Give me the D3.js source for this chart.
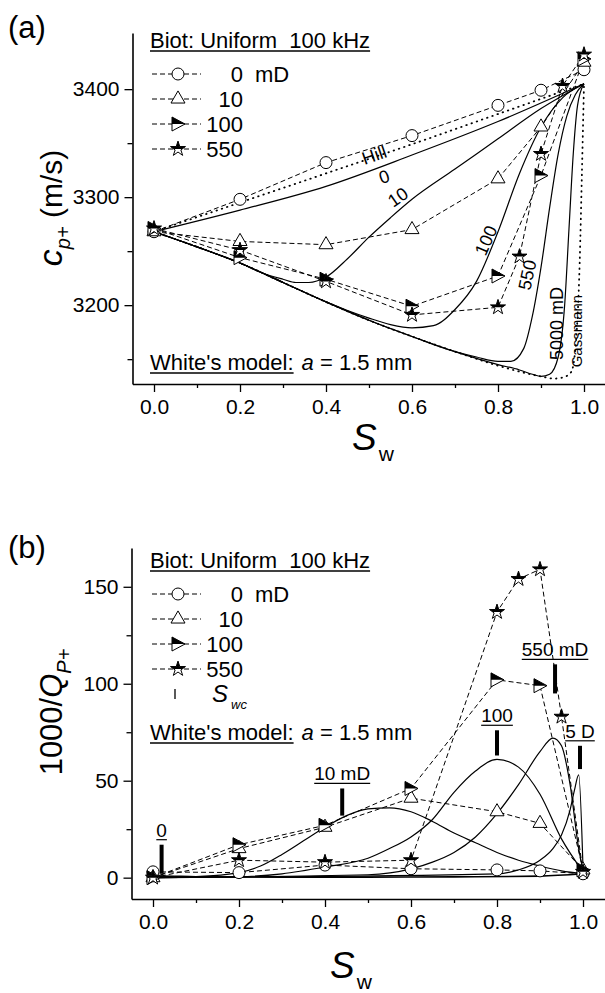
<!DOCTYPE html>
<html>
<head>
<meta charset="utf-8">
<script src="https://cdn.jsdelivr.net/npm/d3@7"></script>
<style>
body { margin: 0; background: #fff; }
text { font-family: "Liberation Sans", Arial, Helvetica, sans-serif; fill: #000; }
</style>
</head>
<body>
<script>
// ---- data: Biot model points (dashed, with markers) ----
var swBiot = [0, 0.2, 0.4, 0.6, 0.8, 0.9, 1.0];
var swBiot550 = [0, 0.2, 0.4, 0.6, 0.8, 0.85, 0.9, 0.95, 1.0];

// panel (a): velocity c_p+ (m/s)
var vpBiot0 = [3268, 3298, 3332, 3357, 3385, 3399, 3418];
var vpBiot10 = [3268, 3259, 3256, 3270, 3317, 3365, 3425];
var vpBiot100 = [3271, 3244, 3224, 3199, 3227, 3320, 3428];
var vpBiot550 = [3271, 3251, 3222, 3191, 3198, 3245, 3340, 3403, 3432];

// panel (b): 1000/Q
var qBiot0 = [3, 2.6, 6.5, 4.6, 4, 3.5, 2];
var qBiot10 = [0, 15, 26, 41, 34, 28, 4];
var qBiot100 = [0, 17, 27, 46, 102, 99, 4];
var qBiot550 = [0, 9, 8, 9, 137, 154, 159, 83, 3];

// ---- data: White's model curves, panel (a) ----
var swHill = [0, 0.2, 0.4, 0.6, 0.8, 1.0];
var vpHill = [3268, 3295, 3322, 3349, 3377, 3405];
var vpWhite0 = [3268, 3288, 3310, 3339, 3370, 3405];
var swWhite10 = [0, 0.1, 0.2, 0.25, 0.3, 0.33, 0.36, 0.4, 0.45, 0.5, 0.55, 0.6, 0.7, 0.8, 0.9, 1.0];
var vpWhite10 = [3268, 3254, 3239, 3230, 3224, 3221, 3221, 3226, 3243, 3263, 3281, 3298, 3326, 3354, 3382, 3405];
var swWhite100 = [0, 0.1, 0.2, 0.3, 0.4, 0.45, 0.5, 0.55, 0.6, 0.65, 0.7, 0.75, 0.8, 0.85, 0.9, 0.95, 1.0];
var vpWhite100 = [3268, 3254, 3239, 3221, 3203, 3195, 3188, 3182, 3179, 3181, 3196, 3222, 3268, 3322, 3365, 3392, 3405];
var swWhite550 = [0, 0.1, 0.2, 0.3, 0.4, 0.5, 0.6, 0.7, 0.75, 0.8, 0.83, 0.86, 0.88, 0.9, 0.92, 0.94, 0.96, 0.98, 1.0];
var vpWhite550 = [3268, 3254, 3239, 3221, 3203, 3186, 3171, 3157, 3152, 3148, 3148, 3160, 3190, 3235, 3290, 3340, 3375, 3395, 3405];
var swWhite5000 = [0, 0.1, 0.2, 0.3, 0.4, 0.5, 0.6, 0.7, 0.8, 0.85, 0.88, 0.9, 0.92, 0.94, 0.955, 0.965, 0.975, 0.985, 1.0];
var vpWhite5000 = [3268, 3254, 3239, 3221, 3203, 3186, 3171, 3157, 3145, 3140, 3136, 3134, 3136, 3152, 3200, 3270, 3340, 3385, 3405];
var swGassmann = [0, 0.1, 0.2, 0.3, 0.4, 0.5, 0.6, 0.7, 0.8, 0.9, 0.93, 0.95, 0.97, 0.98, 0.99, 0.995, 1.0];
var vpGassmann = [3268, 3254, 3239, 3221, 3203, 3186, 3171, 3157, 3144, 3134, 3132, 3133, 3138, 3160, 3240, 3320, 3405];

// ---- data: White's model curves, panel (b) ----
var swQ0 = [0, 0.02, 0.1, 0.3, 0.5, 0.7, 0.9, 1.0];
var qWhite0 = [0, 0.8, 0.5, 0.3, 0.3, 0.4, 0.8, 2];
var swQ10 = [0, 0.1, 0.2, 0.25, 0.3, 0.35, 0.4, 0.45, 0.5, 0.55, 0.6, 0.65, 0.7, 0.75, 0.8, 0.85, 0.9, 0.95, 1.0];
var qWhite10 = [0, 0.5, 2.6, 6, 12, 19, 26, 32, 35.5, 36, 34, 29, 23, 18, 13, 9, 6, 3.5, 2];
var swQ100 = [0, 0.2, 0.3, 0.4, 0.5, 0.55, 0.6, 0.65, 0.7, 0.75, 0.8, 0.85, 0.9, 0.95, 1.0];
var qWhite100 = [0, 0.5, 2, 5.5, 10, 15, 21, 30, 44, 55, 61, 57, 43, 20, 3];
var swQ550 = [0, 0.5, 0.6, 0.65, 0.7, 0.75, 0.8, 0.85, 0.9, 0.93, 0.95, 0.97, 0.99, 1.0];
var qWhite550 = [0, 1.5, 4.5, 8, 13, 21, 33, 48, 65, 72, 68, 48, 15, 4];
var swQ5000 = [0, 0.8, 0.85, 0.9, 0.93, 0.95, 0.97, 0.98, 0.99, 1.0];
var qWhite5000 = [0, 2, 4, 9, 15, 22, 35, 45, 53, 5];

// critical water saturation S_wc markers in panel (b)
var swcSw = [0.02, 0.44, 0.8, 0.935, 0.993];
var swcLow = [2, 32, 63, 95, 56];
var swcHigh = [17, 46, 76, 110, 68];
var swcLabels = ["0", "10 mD", "100", "550 mD", "5 D"];

// ticks
var xTicks = [0, 0.2, 0.4, 0.6, 0.8, 1.0];
var xMinor = [0.1, 0.3, 0.5, 0.7, 0.9];
var yTicksA = [3200, 3300, 3400];
var yMinorA = [3150, 3250, 3350];
var yTicksB = [0, 50, 100, 150];
var yMinorB = [25, 75, 125];

var legendPerm = ["0", "10", "100", "550"];

// ---- setup ----
var svg = d3.select("body").append("svg")
    .attr("width", 605)
    .attr("height", 993);

var defs = svg.append("defs");
defs.append("clipPath").attr("id", "upperHalf")
    .append("rect").attr("x", -12).attr("y", -12).attr("width", 24).attr("height", 12);

var xA = d3.scaleLinear().domain([-0.05, 1.05]).range([132.5, 605.5]);
var yA = d3.scaleLinear().domain([3127, 3452]).range([384, 33]);
var xB = d3.scaleLinear().domain([-0.05, 1.05]).range([131.5, 604.5]);
var yB = d3.scaleLinear().domain([-11, 170]).range([899, 548]);

function drawAxes(x, y, yMajor, yMinor, yFmt) {
    var left = x.range()[0], bottom = y.range()[0];
    var gx = svg.append("g").attr("transform", "translate(0," + bottom + ")")
        .call(d3.axisBottom(x).tickValues(xTicks).tickSize(8).tickSizeOuter(0)
            .tickPadding(7).tickFormat(d3.format(".1f")));
    svg.append("g").attr("transform", "translate(0," + bottom + ")")
        .call(d3.axisBottom(x).tickValues(xMinor).tickSize(4).tickFormat(""))
        .select(".domain").remove();
    var gy = svg.append("g").attr("transform", "translate(" + left + ",0)")
        .call(d3.axisLeft(y).tickValues(yMajor).tickSize(8).tickSizeOuter(0)
            .tickPadding(5).tickFormat(yFmt));
    svg.append("g").attr("transform", "translate(" + left + ",0)")
        .call(d3.axisLeft(y).tickValues(yMinor).tickSize(5).tickFormat(""))
        .select(".domain").remove();
    [gx, gy].forEach(function (g) {
        g.attr("font-size", 21).attr("font-family", null);
        g.select(".domain").attr("stroke-width", 1.6);
    });
    svg.selectAll(".tick line").attr("stroke-width", 1.3);
}

function pts(sw, v) {
    return sw.map(function (s, i) { return [s, v[i]]; });
}

function drawMarker(g, type, px, py) {
    var m = g.append("g").attr("transform", "translate(" + px + "," + py + ")");
    if (type === "circle") {
        m.append("circle").attr("r", 6).attr("fill", "#fff").attr("stroke", "#000").attr("stroke-width", 1);
    } else if (type === "triangle") {
        m.append("path").attr("d", d3.symbol(d3.symbolTriangle, 85)())
            .attr("fill", "#fff").attr("stroke", "#000").attr("stroke-width", 1);
    } else if (type === "flag") {
        m.append("path").attr("d", "M-6,-7L7,0L-6,7Z")
            .attr("fill", "#fff").attr("stroke", "#000").attr("stroke-width", 1);
        m.append("path").attr("d", "M-6,-7L7,0L-6,0Z").attr("fill", "#000");
    } else if (type === "star") {
        var d = d3.symbol(d3.symbolStar, 70)();
        m.append("path").attr("d", d).attr("fill", "#fff").attr("stroke", "#000").attr("stroke-width", 1);
        m.append("path").attr("d", d).attr("fill", "#000").attr("clip-path", "url(#upperHalf)");
    }
}

var markerTypes = ["circle", "triangle", "flag", "star"];

function drawBiot(x, y, series) {
    var g = svg.append("g");
    var line = d3.line().x(function (d) { return x(d[0]); }).y(function (d) { return y(d[1]); });
    series.forEach(function (s, k) {
        g.append("path").attr("d", line(s))
            .attr("fill", "none").attr("stroke", "#000")
            .attr("stroke-width", 1).attr("stroke-dasharray", "5,3");
    });
    series.forEach(function (s, k) {
        s.forEach(function (d) { drawMarker(g, markerTypes[k], x(d[0]), y(d[1])); });
    });
}

function drawWhite(x, y, data, dash, width) {
    var line = d3.line().curve(d3.curveMonotoneX)
        .x(function (d) { return x(d[0]); }).y(function (d) { return y(d[1]); });
    svg.append("path").attr("d", line(data))
        .attr("fill", "none").attr("stroke", "#000")
        .attr("stroke-width", width || 1.2)
        .attr("stroke-dasharray", dash || null)
        .attr("stroke-linecap", dash ? "round" : null);
}

function underlined(x, y, str, size) {
    var t = svg.append("text").attr("x", x).attr("y", y)
        .attr("font-size", size).style("white-space", "pre").text(str);
    var w = t.node().getComputedTextLength();
    svg.append("line").attr("x1", x).attr("x2", x + w)
        .attr("y1", y + 3).attr("y2", y + 3)
        .attr("stroke", "#000").attr("stroke-width", 1.3);
    return w;
}

function drawLegend(top, rowStep, withSwc) {
    underlined(150, top, "Biot: Uniform  100 kHz", 22);
    legendPerm.forEach(function (lab, k) {
        var cy = top + 26 + k * rowStep;
        svg.append("line").attr("x1", 152).attr("x2", 201).attr("y1", cy).attr("y2", cy)
            .attr("stroke", "#000").attr("stroke-width", 1).attr("stroke-dasharray", "5,3");
        drawMarker(svg, markerTypes[k], 178, cy);
        svg.append("text").attr("x", 243).attr("y", cy + 8).attr("text-anchor", "end")
            .attr("font-size", 22).text(lab);
        if (k === 0) {
            svg.append("text").attr("x", 255).attr("y", cy + 8).attr("font-size", 22).text("mD");
        }
    });
    if (withSwc) {
        var cy = top + 26 + 4 * rowStep;
        svg.append("line").attr("x1", 175).attr("x2", 175).attr("y1", cy - 5).attr("y2", cy + 5)
            .attr("stroke", "#000").attr("stroke-width", 1.3);
        var t = svg.append("text").attr("x", 212).attr("y", cy + 8).attr("font-size", 24);
        t.append("tspan").attr("font-style", "italic").text("S");
        t.append("tspan").attr("font-style", "italic").attr("font-size", 13)
            .attr("dx", 3).attr("dy", 7).text("wc");
    }
}

function whiteNote(y) {
    var w = underlined(150, y, "White's model:", 22);
    var t = svg.append("text").attr("x", 150 + w + 8).attr("y", y).attr("font-size", 22);
    t.append("tspan").attr("font-style", "italic").text("a");
    t.append("tspan").text(" = 1.5 mm");
}

function swLabel(x, y) {
    var t = svg.append("text").attr("x", x).attr("y", y).attr("font-size", 37);
    t.append("tspan").attr("font-style", "italic").text("S");
    t.append("tspan").attr("font-size", 21).attr("dx", 2).attr("dy", 11).text("w");
}

// ================= panel (a) =================
drawAxes(xA, yA, yTicksA, yMinorA, d3.format("d"));

drawWhite(xA, yA, pts(swHill, vpHill), "0.5,5", 1.8);
drawWhite(xA, yA, pts(swHill, vpWhite0));
drawWhite(xA, yA, pts(swWhite10, vpWhite10));
drawWhite(xA, yA, pts(swWhite100, vpWhite100));
drawWhite(xA, yA, pts(swWhite550, vpWhite550));
drawWhite(xA, yA, pts(swWhite5000, vpWhite5000));
drawWhite(xA, yA, pts(swGassmann, vpGassmann), "0.5,5", 1.8);

drawBiot(xA, yA, [pts(swBiot, vpBiot0), pts(swBiot, vpBiot10),
    pts(swBiot, vpBiot100), pts(swBiot550, vpBiot550)]);

// curve labels (a)
var curveLabA = [
    ["Hill", 0.512, 3339, -19, 18],
    ["0", 0.535, 3319, -19, 18],
    ["10", 0.567, 3300, -35, 18],
    ["100", 0.772, 3260, -66, 18],
    ["550", 0.868, 3228, -78, 18],
    ["5000 mD", 0.936, 3183, -90, 18],
    ["Gassmann", 0.982, 3176, -90, 15]
];
curveLabA.forEach(function (c) {
    svg.append("text")
        .attr("transform", "translate(" + xA(c[1]) + "," + yA(c[2]) + ") rotate(" + c[3] + ")")
        .attr("text-anchor", "middle").attr("dy", "0.35em")
        .attr("font-size", c[4]).text(c[0]);
});

drawLegend(48, 25, false);
whiteNote(370);

svg.append("text").attr("x", 8).attr("y", 38).attr("font-size", 31).text("(a)");
swLabel(352, 450);

var ylA = svg.append("text").attr("transform", "translate(62,208) rotate(-90)")
    .attr("text-anchor", "middle").attr("font-size", 30);
ylA.append("tspan").attr("font-style", "italic").attr("font-size", 34).text("c");
ylA.append("tspan").attr("font-style", "italic").attr("font-size", 20).attr("dy", 8).text("p+");
ylA.append("tspan").attr("dy", -8).text(" (m/s)");

// ================= panel (b) =================
drawAxes(xB, yB, yTicksB, yMinorB, d3.format("d"));

drawWhite(xB, yB, pts(swQ0, qWhite0), null, 1.6);
drawWhite(xB, yB, pts(swQ10, qWhite10));
drawWhite(xB, yB, pts(swQ100, qWhite100));
drawWhite(xB, yB, pts(swQ550, qWhite550));
drawWhite(xB, yB, pts(swQ5000, qWhite5000));

drawBiot(xB, yB, [pts(swBiot, qBiot0), pts(swBiot, qBiot10),
    pts(swBiot, qBiot100), pts(swBiot550, qBiot550)]);

// S_wc bars with labels
swcSw.forEach(function (s, i) {
    svg.append("line").attr("x1", xB(s)).attr("x2", xB(s))
        .attr("y1", yB(swcLow[i])).attr("y2", yB(swcHigh[i]))
        .attr("stroke", "#000").attr("stroke-width", 4);
    var t = svg.append("text").attr("x", xB(s)).attr("y", yB(swcHigh[i]) - 8)
        .attr("text-anchor", "middle").attr("font-size", 19).text(swcLabels[i]);
    var bb = t.node().getBBox();
    svg.append("line").attr("x1", bb.x).attr("x2", bb.x + bb.width)
        .attr("y1", yB(swcHigh[i]) - 5).attr("y2", yB(swcHigh[i]) - 5)
        .attr("stroke", "#000").attr("stroke-width", 1.2);
});

drawLegend(568, 25, true);
whiteNote(740);

svg.append("text").attr("x", 8).attr("y", 558).attr("font-size", 31).text("(b)");
swLabel(330, 978);

var ylB = svg.append("text").attr("transform", "translate(62,712) rotate(-90)")
    .attr("text-anchor", "middle").attr("font-size", 31);
ylB.append("tspan").text("1000/");
ylB.append("tspan").attr("font-style", "italic").text("Q");
ylB.append("tspan").attr("font-style", "italic").attr("font-size", 20).attr("dy", 9).text("P+");
</script>
</body>
</html>
